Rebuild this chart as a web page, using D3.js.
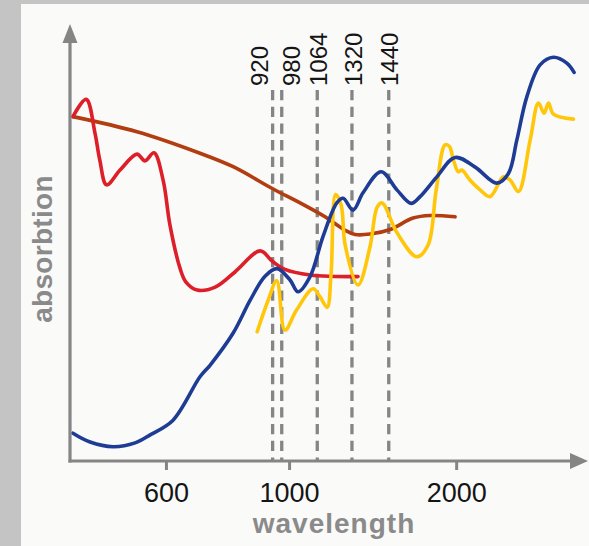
<!DOCTYPE html>
<html>
<head>
<meta charset="utf-8">
<script src="https://cdn.jsdelivr.net/npm/d3@7"></script>
<style>
  html, body { margin: 0; padding: 0; background: #c4c4c4; }
  svg { display: block; }
</style>
</head>
<body>
<div id="chart"></div>
<script>
// wavelength in nm (log axis), absorption in arbitrary units (0-100)
const tickValues = [600, 1000, 2000];
const markerLabels = ["920", "980", "1064", "1320", "1440"];
// the schematic does not put the marker lines exactly on their wavelengths,
// these are the positions
const markerPos = [934, 970, 1124, 1298, 1512];

const brownCurve = [
    [408, 81.8], [532, 78.2], [691, 73.1], [793, 69.9], [936, 64.6], [1047, 61.3],
    [1161, 58.0], [1262, 54.8], [1315, 53.8], [1399, 53.9], [1521, 55.0], [1673, 57.7],
    [1795, 58.3], [1991, 58.0]
];

const redCurve = [
    [408, 81.8], [431, 85.9], [447, 77.9], [456, 71.5], [469, 65.6], [496, 69.1],
    [532, 72.9], [550, 71.3], [571, 73.2], [593, 66.7], [610, 56.1], [636, 45.8],
    [652, 42.5], [683, 40.6], [736, 41.3], [799, 44.9], [887, 49.9], [932, 47.5],
    [983, 45.5], [1091, 44.2], [1331, 43.8]
];

const yellowCurve = [
    [876, 30.7], [917, 38.2], [950, 42.8], [983, 31.1], [1032, 35.9], [1105, 40.9],
    [1137, 39.0], [1171, 36.5], [1190, 44.2], [1213, 63.3], [1241, 60.8], [1262, 51.3],
    [1331, 41.8], [1399, 50.9], [1441, 60.3], [1471, 61.3], [1565, 54.2], [1699, 48.5],
    [1780, 51.3], [1841, 64.4], [1910, 75.1], [1945, 74.7], [1977, 71.5], [2018, 68.7],
    [2047, 69.1], [2119, 66.7], [2209, 64.4], [2303, 62.8], [2433, 67.5], [2502, 66.7],
    [2590, 64.0], [2718, 76.2], [2813, 85.0], [2881, 82.6], [2933, 85.0], [2994, 82.4],
    [3253, 81.2]
];

const blueCurve = [
    [408, 6.6], [438, 4.5], [482, 3.4], [528, 4.3], [562, 6.2], [618, 9.7],
    [691, 20.0], [721, 22.8], [793, 30.4], [851, 38.2], [905, 43.9], [951, 45.7],
    [1004, 43.0], [1038, 40.2], [1091, 43.8], [1151, 53.3], [1219, 61.3], [1251, 62.4],
    [1304, 59.6], [1359, 63.7], [1465, 68.7], [1564, 64.4], [1659, 61.2], [1722, 62.8],
    [1846, 67.5], [1991, 72.1], [2164, 69.8], [2367, 66.0], [2484, 68.3], [2572, 76.2],
    [2681, 86.5], [2833, 94.1], [2994, 95.9], [3165, 94.5], [3262, 92.3]
];

const width = 589;
const height = 546;
const margin = { left: 70, right: 0, top: 40, bottom: 85 };
const axisColor = "#858585";
const labelGray = "#8a8a8a";
const textFont = "'Liberation Sans', Arial, Helvetica, sans-serif";

const svg = d3.select("#chart")
    .append("svg")
    .attr("width", width)
    .attr("height", height);

// light panel inside the grey frame
svg.append("rect")
    .attr("x", 21)
    .attr("y", 4)
    .attr("width", width - 21)
    .attr("height", height - 4)
    .attr("fill", "#fafaf9");

const xScale = d3.scaleLog()
    .domain([403, 3470])
    .range([margin.left, width - margin.right]);

const yScale = d3.scaleLinear()
    .domain([0, 100])
    .range([height - margin.bottom, margin.top]);

const y0 = yScale(0);

// dashed marker lines
const markerTop = 90;
const labelNudge = { "920": -13, "980": 10 };

const markers = svg.append("g");
markers.selectAll("line")
    .data(markerPos)
    .join("line")
    .attr("x1", d => xScale(d))
    .attr("x2", d => xScale(d))
    .attr("y1", markerTop)
    .attr("y2", y0)
    .attr("stroke", axisColor)
    .attr("stroke-width", 3.3)
    .attr("stroke-dasharray", "10.3,6.4");

markers.selectAll("text")
    .data(markerPos)
    .join("text")
    .attr("transform", (d, i) => `translate(${xScale(d) + (labelNudge[markerLabels[i]] || 1)}, ${markerTop - 4}) rotate(-90)`)
    .attr("dy", "0.36em")
    .attr("text-anchor", "start")
    .style("font-family", textFont)
    .style("font-size", "24px")
    .attr("fill", "#151515")
    .text((d, i) => markerLabels[i]);

// curves
const line = d3.line()
    .x(d => xScale(d[0]))
    .y(d => yScale(d[1]))
    .curve(d3.curveCatmullRom.alpha(0.5));

const series = [
    { data: brownCurve, color: "#b23d10" },
    { data: redCurve, color: "#dc1f28" },
    { data: yellowCurve, color: "#ffc60a" },
    { data: blueCurve, color: "#1e3c94" }
];

svg.append("g")
    .selectAll("path")
    .data(series)
    .join("path")
    .attr("d", d => line(d.data))
    .attr("fill", "none")
    .attr("stroke", d => d.color)
    .attr("stroke-width", 3.6)
    .attr("stroke-linecap", "round")
    .attr("stroke-linejoin", "round");

// axes with arrow heads
const axes = svg.append("g");

axes.append("line")
    .attr("x1", margin.left)
    .attr("x2", margin.left)
    .attr("y1", y0 + 1.5)
    .attr("y2", 43)
    .attr("stroke", axisColor)
    .attr("stroke-width", 3.2);

axes.append("path")
    .attr("d", `M${margin.left},24 L${margin.left + 7.5},43 L${margin.left - 7.5},43 Z`)
    .attr("fill", axisColor);

axes.append("line")
    .attr("x1", margin.left - 1.5)
    .attr("x2", width - 19)
    .attr("y1", y0)
    .attr("y2", y0)
    .attr("stroke", axisColor)
    .attr("stroke-width", 3.2);

axes.append("path")
    .attr("d", `M${width - 1},${y0} L${width - 19},${y0 - 8} L${width - 19},${y0 + 8} Z`)
    .attr("fill", axisColor);

const xAxis = d3.axisBottom(xScale)
    .tickValues(tickValues)
    .tickFormat(d3.format("d"))
    .tickSize(9)
    .tickPadding(12.5);

const xAxisG = svg.append("g")
    .attr("transform", `translate(0, ${y0})`)
    .call(xAxis);

xAxisG.select(".domain").remove();
xAxisG.selectAll(".tick line")
    .attr("stroke", axisColor)
    .attr("stroke-width", 3);
xAxisG.selectAll(".tick text")
    .attr("fill", "#151515")
    .style("font-family", textFont)
    .style("font-size", "27px");

// axis titles
svg.append("text")
    .attr("x", 334)
    .attr("y", 532.5)
    .attr("text-anchor", "middle")
    .style("font-family", textFont)
    .style("font-weight", "bold")
    .style("font-size", "28px")
    .style("letter-spacing", "1px")
    .attr("fill", labelGray)
    .text("wavelength");

svg.append("text")
    .attr("transform", "translate(51.5, 249) rotate(-90)")
    .attr("text-anchor", "middle")
    .style("font-family", textFont)
    .style("font-weight", "bold")
    .style("font-size", "28px")
    .style("letter-spacing", "0.3px")
    .attr("fill", labelGray)
    .text("absorbtion");
</script>
</body>
</html>
